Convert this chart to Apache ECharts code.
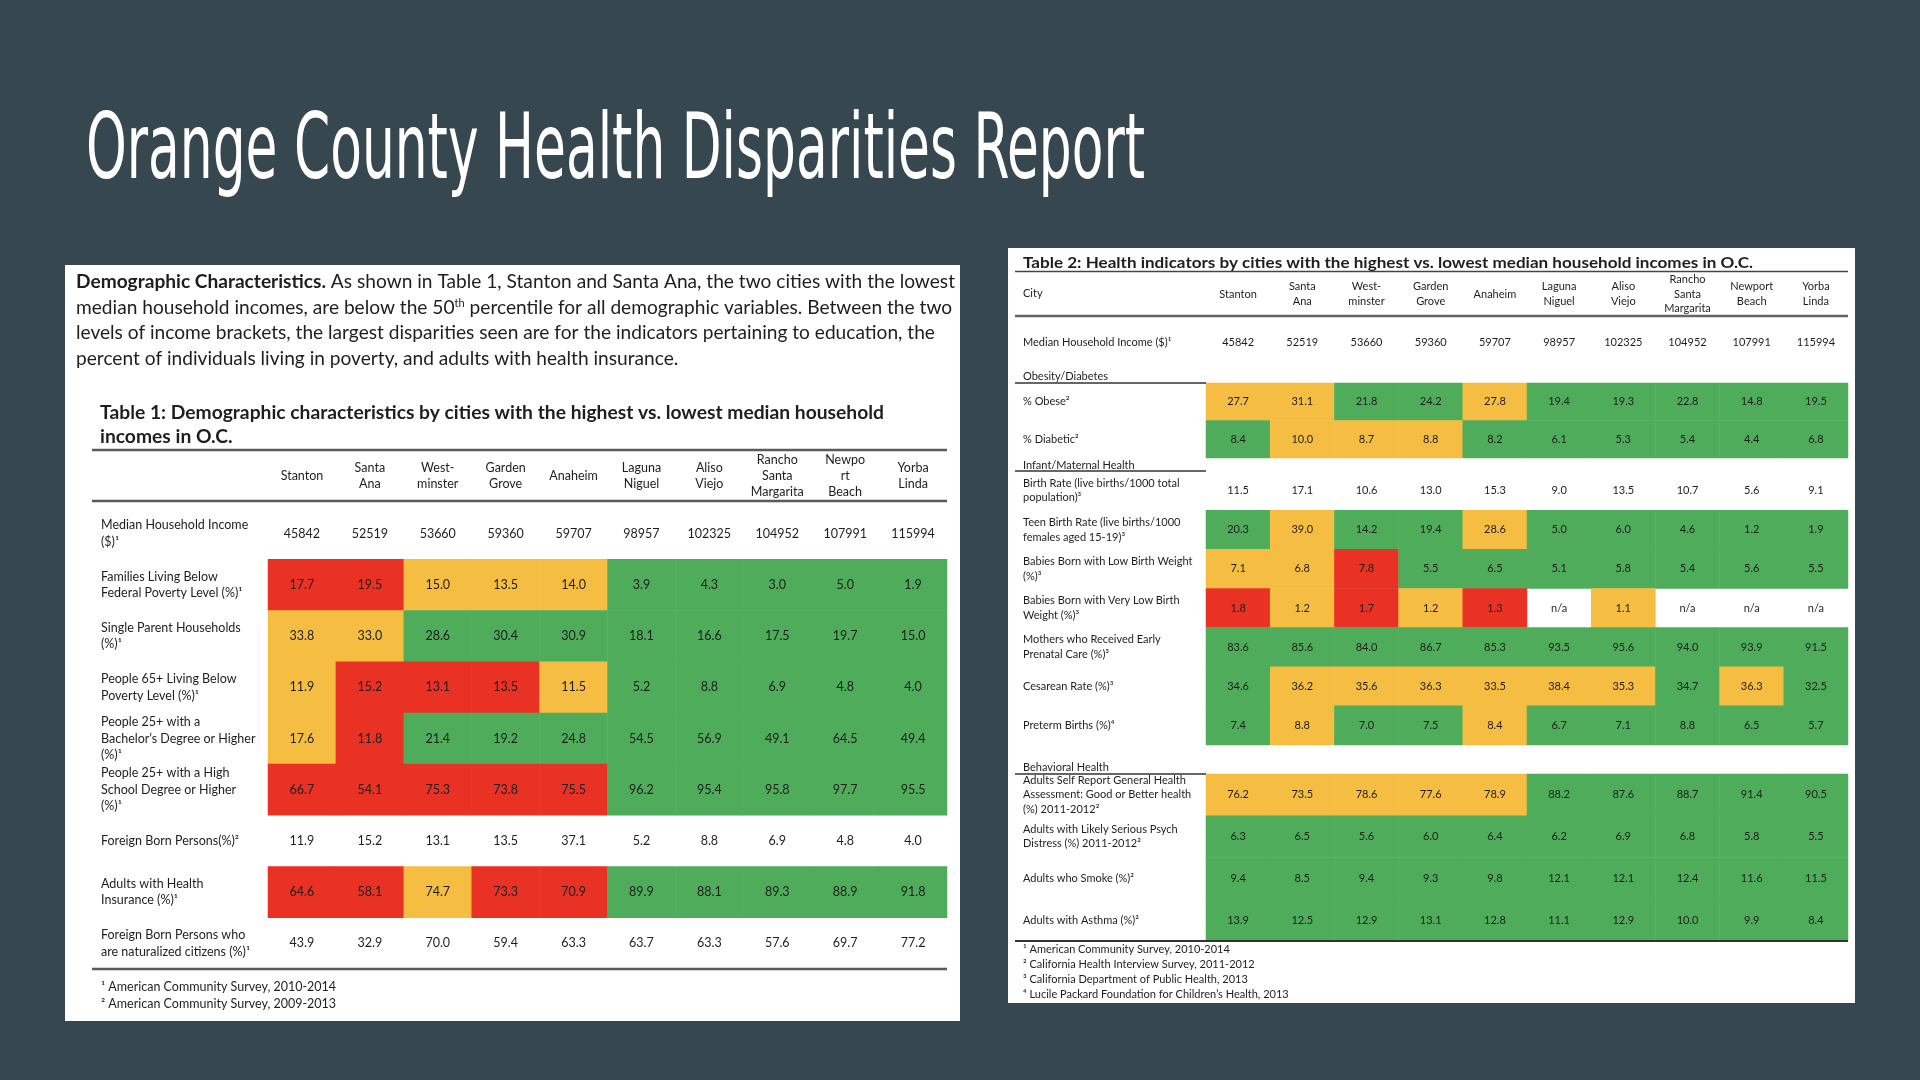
<!DOCTYPE html>
<html><head><meta charset="utf-8">
<script src="https://cdn.jsdelivr.net/npm/echarts@6/dist/echarts.min.js"></script>
<style>html,body{margin:0;padding:0;background:#37474f}#c{width:1920px;height:1080px}</style>
</head><body><div id="c"></div>
<script>
// ================= DATA =================
const cities1 = ['Stanton','Santa\nAna','West-\nminster','Garden\nGrove','Anaheim','Laguna\nNiguel','Aliso\nViejo','Rancho\nSanta\nMargarita','Newpo\nrt\nBeach','Yorba\nLinda'];
const cities2 = ['Stanton','Santa\nAna','West-\nminster','Garden\nGrove','Anaheim','Laguna\nNiguel','Aliso\nViejo','Rancho\nSanta\nMargarita','Newport\nBeach','Yorba\nLinda'];

const medianIncome = [45842,52519,53660,59360,59707,98957,102325,104952,107991,115994];

// Table 1 rows
const t1Labels = [
  'Median Household Income\n($)¹',
  'Families Living Below\nFederal Poverty Level (%)¹',
  'Single Parent Households\n(%)¹',
  'People 65+ Living Below\nPoverty Level (%)¹',
  'People 25+ with a\nBachelor\u2019s Degree or Higher\n(%)¹',
  'People 25+ with a High\nSchool Degree or Higher\n(%)¹',
  'Foreign Born Persons(%)²',
  'Adults with Health\nInsurance (%)¹',
  'Foreign Born Persons who\nare naturalized citizens (%)¹'
];
const familiesPoverty = [17.7,19.5,15.0,13.5,14.0,3.9,4.3,3.0,5.0,1.9];
const singleParent    = [33.8,33.0,28.6,30.4,30.9,18.1,16.6,17.5,19.7,15.0];
const seniorsPoverty  = [11.9,15.2,13.1,13.5,11.5,5.2,8.8,6.9,4.8,4.0];
const bachelors       = [17.6,11.8,21.4,19.2,24.8,54.5,56.9,49.1,64.5,49.4];
const highSchool      = [66.7,54.1,75.3,73.8,75.5,96.2,95.4,95.8,97.7,95.5];
const foreignBorn     = [11.9,15.2,13.1,13.5,37.1,5.2,8.8,6.9,4.8,4.0];
const healthIns       = [64.6,58.1,74.7,73.3,70.9,89.9,88.1,89.3,88.9,91.8];
const naturalized     = [43.9,32.9,70.0,59.4,63.3,63.7,63.3,57.6,69.7,77.2];
// rating classes: R = red, Y = yellow, G = green, W = none
const t1Classes = ['WWWWWWWWWW','RRYYYGGGGG','YYGGGGGGGG','YRRRYGGGGG','YRGGGGGGGG','RRRRRGGGGG','WWWWWWWWWW','RRYRRGGGGG','WWWWWWWWWW'];

// Table 2
const t2MedianLabel = ['Median Household Income ($)¹'];
const t2ObesityLabels = ['% Obese²','% Diabetic²'];
const obese    = [27.7,31.1,21.8,24.2,27.8,19.4,19.3,22.8,14.8,19.5];
const diabetic = [8.4,10.0,8.7,8.8,8.2,6.1,5.3,5.4,4.4,6.8];
const t2ObesityClasses = ['YYGGYGGGGG','GYYYGGGGGG'];

const t2InfantLabels = [
  'Birth Rate (live births/1000 total\npopulation)³',
  'Teen Birth Rate (live births/1000\nfemales aged 15-19)³',
  'Babies Born with Low Birth Weight\n(%)³',
  'Babies Born with Very Low Birth\nWeight (%)³',
  'Mothers who Received Early\nPrenatal Care (%)³',
  'Cesarean Rate (%)³',
  'Preterm Births (%)⁴'
];
const birthRate   = [11.5,17.1,10.6,13.0,15.3,9.0,13.5,10.7,5.6,9.1];
const teenBirth   = [20.3,39.0,14.2,19.4,28.6,5.0,6.0,4.6,1.2,1.9];
const lowWeight   = [7.1,6.8,7.8,5.5,6.5,5.1,5.8,5.4,5.6,5.5];
const vlowWeight  = [1.8,1.2,1.7,1.2,1.3,null,1.1,null,null,null];
const prenatal    = [83.6,85.6,84.0,86.7,85.3,93.5,95.6,94.0,93.9,91.5];
const cesarean    = [34.6,36.2,35.6,36.3,33.5,38.4,35.3,34.7,36.3,32.5];
const preterm     = [7.4,8.8,7.0,7.5,8.4,6.7,7.1,8.8,6.5,5.7];
const t2InfantClasses = ['WWWWWWWWWW','GYGGYGGGGG','YYRGGGGGGG','RYRYRWYWWW','GGGGGGGGGG','GYYYYYYGYG','GYGGYGGGGG'];

const t2BehavLabels = [
  'Adults Self Report General Health\nAssessment: Good or Better health\n(%) 2011-2012²',
  'Adults with Likely Serious Psych\nDistress (%) 2011-2012²',
  'Adults who Smoke (%)²',
  'Adults with Asthma (%)²'
];
const selfReport = [76.2,73.5,78.6,77.6,78.9,88.2,87.6,88.7,91.4,90.5];
const psych      = [6.3,6.5,5.6,6.0,6.4,6.2,6.9,6.8,5.8,5.5];
const smoke      = [9.4,8.5,9.4,9.3,9.8,12.1,12.1,12.4,11.6,11.5];
const asthma     = [13.9,12.5,12.9,13.1,12.8,11.1,12.9,10.0,9.9,8.4];
const t2BehavClasses = ['YYYYYGGGGG','GGGGGGGGGG','GGGGGGGGGG','GGGGGGGGGG'];

// ================= STYLE =================
const COLORS = {R:'#E93223', Y:'#F5BE42', G:'#4FAC5B', W:'rgba(0,0,0,0)'};
const FONT = 'Lato, "Open Sans", sans-serif';
const TXT = '#1e1e1e';

function measure(font, text){
  const ctx = document.createElement('canvas').getContext('2d');
  ctx.font = font; return ctx.measureText(text).width;
}

function cells(rows, classes, integerRows){
  const out = [];
  rows.forEach((vals, r) => {
    vals.forEach((v, c) => {
      const txt = v == null ? 'n/a' : (integerRows && integerRows.indexOf(r) >= 0 ? String(v) : v.toFixed(1));
      out.push({value:[c, r, v == null ? 0 : v], txt: txt, itemStyle:{color: COLORS[classes[r][c]]}});
    });
  });
  return out;
}

const t1Cells = cells([medianIncome,familiesPoverty,singleParent,seniorsPoverty,bachelors,highSchool,foreignBorn,healthIns,naturalized], t1Classes, [0]);
const t2MedCells = cells([medianIncome], ['WWWWWWWWWW'], [0]);
const t2ObCells = cells([obese,diabetic], t2ObesityClasses);
const t2InfCells = cells([birthRate,teenBirth,lowWeight,vlowWeight,prenatal,cesarean,preterm], t2InfantClasses);
const t2BehCells = cells([selfReport,psych,smoke,asthma], t2BehavClasses);

function xAx(grid, data, show, fs, margin){
  return {gridIndex:grid, type:'category', data:data, position:'top', show:show,
    axisLine:{show:false}, axisTick:{show:false}, splitLine:{show:false},
    axisLabel:{interval:0, margin:margin, verticalAlign:'middle', fontSize:fs, lineHeight:fs*1.3, color:TXT, fontFamily:FONT}};
}
function yAx(grid, data, fs, margin){
  return {gridIndex:grid, type:'category', data:data, inverse:true,
    axisLine:{show:false}, axisTick:{show:false}, splitLine:{show:false},
    axisLabel:{interval:0, align:'left', margin:margin, fontSize:fs, lineHeight:fs*1.32, color:TXT, fontFamily:FONT}};
}
function hm(i, data, fs){
  return {type:'heatmap', xAxisIndex:i, yAxisIndex:i, data:data, itemStyle:{borderWidth:0},
    emphasis:{disabled:true},
    label:{show:true, color:TXT, fontSize:fs, fontFamily:FONT, formatter:p => p.data.txt}};
}

// text fitting
const titleText = 'Orange County Health Disparities Report';
const TITLE_FAMILY = '"DejaVu Sans Condensed", "Liberation Sans Narrow", sans-serif';
const titleFs = 90;
const titleFont = '500 ' + titleFs + 'px ' + TITLE_FAMILY;
const titleScale = 1059 / measure(titleFont, titleText);

const pFs = 19;
const p1b = 'Demographic Characteristics.';
const p1r = ' As shown in Table 1, Stanton and Santa Ana, the two cities with the lowest';
const pScale = 879 / (measure('bold '+pFs+'px Lato', p1b) + measure(pFs+'px Lato', p1r));
const paraLines = [
  '{b|'+p1b+'}'+p1r,
  'median household incomes, are below the 50{sup|th} percentile for all demographic variables. Between the two',
  'levels of income brackets, the largest disparities seen are for the indicators pertaining to education, the',
  'percent of individuals living in poverty, and adults with health insurance.'
];
const t1TitleLines = ['Table 1: Demographic characteristics by cities with the highest vs. lowest median household','incomes in O.C.'];
const t1tFs = 19;
const t1tScale = 784 / measure('bold '+t1tFs+'px Lato', t1TitleLines[0]);
const t2Title = 'Table 2: Health indicators by cities with the highest vs. lowest median household incomes in O.C.';
const t2tFs = 15.5;
const t2tScale = 730 / measure('bold '+t2tFs+'px Lato', t2Title);

function txt(x, y, text, opts){
  opts = opts || {};
  return {type:'text', x:x, y:y, scaleX:opts.scale||1, z:5,
    style:{text:text, fill:opts.fill||TXT, fontSize:opts.fs||12, fontFamily:opts.family||FONT,
      fontWeight:opts.weight||'normal', align:'left', verticalAlign:'middle', textAlign:'left', textVerticalAlign:'middle',
      rich:opts.rich}};
}
function line(x1, y, x2, w, c){
  return {type:'line', shape:{x1:x1, y1:y, x2:x2, y2:y}, z:5, style:{stroke:c||'#555', lineWidth:w||2}};
}

const pRich = {
  b:{fontWeight:'bold', fontSize:pFs, fontFamily:FONT, fill:TXT},
  sup:{fontSize:11, fontFamily:FONT, fill:TXT, verticalAlign:'top', padding:[0,0,8,0]}
};

const graphics = [
  {type:'rect', shape:{x:65, y:265, width:895, height:756}, style:{fill:'#fff'}, z:0},
  {type:'rect', shape:{x:1008, y:248, width:847, height:755}, style:{fill:'#fff'}, z:0},
  txt(86, 155, titleText, {fill:'#fff', fs:titleFs, weight:500, family:TITLE_FAMILY, scale:titleScale}),
  txt(76, 282, paraLines[0], {fs:pFs, scale:pScale, rich:pRich}),
  txt(76, 307.5, paraLines[1], {fs:pFs, scale:pScale, rich:pRich}),
  txt(76, 333, paraLines[2], {fs:pFs, scale:pScale, rich:pRich}),
  txt(76, 359, paraLines[3], {fs:pFs, scale:pScale, rich:pRich}),
  txt(100, 413, t1TitleLines[0], {fs:t1tFs, weight:'bold', scale:t1tScale}),
  txt(100, 437, t1TitleLines[1], {fs:t1tFs, weight:'bold', scale:t1tScale}),
  line(92, 450, 947, 2.5, '#5a5a5a'),
  line(92, 501, 947, 2.5, '#5a5a5a'),
  line(92, 969, 947, 2.5, '#5a5a5a'),
  txt(101, 987, '¹ American Community Survey, 2010-2014', {fs:12.5}),
  txt(101, 1004, '² American Community Survey, 2009-2013', {fs:12.5}),
  txt(1023, 263, t2Title, {fs:t2tFs, weight:'bold', scale:t2tScale}),
  line(1015, 271.5, 1848, 1.5, '#444'),
  txt(1023, 293, 'City', {fs:11}),
  line(1015, 316, 1848, 2.5, '#666'),
  txt(1023, 376, 'Obesity/Diabetes', {fs:11}),
  line(1015, 383, 1206, 1.5, '#333'),
  txt(1023, 465, 'Infant/Maternal Health', {fs:11}),
  line(1015, 471, 1206, 1.5, '#333'),
  txt(1023, 767, 'Behavioral Health', {fs:11}),
  line(1015, 774, 1206, 1.5, '#333'),
  line(1015, 941, 1848, 2, '#333'),
  txt(1023, 949, '¹ American Community Survey, 2010-2014', {fs:11}),
  txt(1023, 964, '² California Health Interview Survey, 2011-2012', {fs:11}),
  txt(1023, 979, '³ California Department of Public Health, 2013', {fs:11}),
  txt(1023, 994, '⁴ Lucile Packard Foundation for Children\u2019s Health, 2013', {fs:11})
];

const chart = echarts.init(document.getElementById('c'), null, {renderer:'canvas'});
chart.setOption({
  backgroundColor:'#37474f',
  animation:false,
  tooltip:{show:false},
  grid:[
    {left:268, top:508, width:679, height:461},
    {left:1206, top:321, width:642, height:42},
    {left:1206, top:383, width:642, height:75},
    {left:1206, top:471, width:642, height:274},
    {left:1206, top:774, width:642, height:167}
  ],
  xAxis:[
    xAx(0, cities1, true, 12.5, 32),
    xAx(1, cities2, true, 11, 27),
    xAx(2, cities2, false, 11, 10),
    xAx(3, cities2, false, 11, 10),
    xAx(4, cities2, false, 11, 10)
  ],
  yAxis:[
    yAx(0, t1Labels, 12.5, 167),
    yAx(1, t2MedianLabel, 11, 183),
    yAx(2, t2ObesityLabels, 11, 183),
    yAx(3, t2InfantLabels, 11, 183),
    yAx(4, t2BehavLabels, 11, 183)
  ],
  series:[
    hm(0, t1Cells, 12.5),
    hm(1, t2MedCells, 11),
    hm(2, t2ObCells, 11),
    hm(3, t2InfCells, 11),
    hm(4, t2BehCells, 11)
  ],
  graphic:{elements:graphics}
});
</script></body></html>
